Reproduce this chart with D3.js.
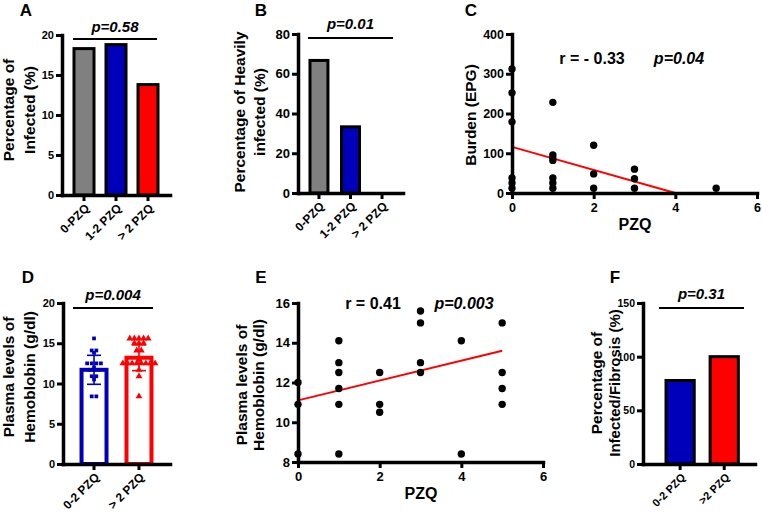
<!DOCTYPE html>
<html><head><meta charset="utf-8">
<script src="https://cdn.jsdelivr.net/npm/d3@7"></script>
<style>html,body{margin:0;padding:0;background:#fff;}</style>
</head><body>
<script>
// ---------------- DATA ----------------
const aCats = ["0-PZQ", "1-2 PZQ", "> 2 PZQ"];
const aVals = [18.3, 18.8, 13.8];
const aTicks = [0, 5, 10, 15, 20];
const aP = "p=0.58";

const bCats = ["0-PZQ", "1-2 PZQ", "> 2 PZQ"];
const bVals = [66.7, 33.3, 0];
const bTicks = [0, 20, 40, 60, 80];
const bP = "p=0.01";

const cX = [0, 0, 0, 0, 0, 0, 1, 1, 1, 1, 1, 1, 1, 2, 2, 2, 3, 3, 3, 5];
const cY = [312, 252, 179, 38, 25, 12, 228, 96, 88, 82, 38, 25, 12, 120, 48, 12, 60, 36, 12, 12];
const cFitX = [0, 4];
const cFitY = [116, 0];
const cXTicks = [0, 2, 4, 6];
const cYTicks = [0, 100, 200, 300, 400];
const cR = "r = - 0.33";
const cP = "p=0.04";

const dCats = ["0-2 PZQ", "> 2 PZQ"];
const dMeans = [11.7, 13.2];
const dSD = [1.8, 1.6];
const dLow = [15.6, 14.1, 14.1, 13.8, 12.5, 12.5, 12.5, 12.5, 12.0, 11.7, 11.7, 11.7, 10.9, 10.9, 10.5, 8.4, 8.4];
const dHigh = [15.6, 15.6, 15.6, 15.6, 15.6, 15.0, 15.0, 15.0, 14.1, 14.1, 13.0, 12.5, 12.5, 12.5, 12.5, 12.5, 12.5, 12.5, 12.5, 11.7, 10.9, 8.4];
const dTicks = [0, 5, 10, 15, 20];
const dP = "p=0.004";

const eX = [0, 0, 0, 1, 1, 1, 1, 1, 1, 2, 2, 2, 3, 3, 3, 3, 4, 4, 5, 5, 5, 5];
const eY = [12.0, 10.9, 8.4, 14.1, 13.0, 12.5, 11.7, 10.9, 8.4, 12.5, 10.9, 10.5, 15.6, 15.0, 13.0, 12.5, 14.1, 8.4, 15.0, 12.5, 11.7, 10.9];
const eFitX = [0, 5];
const eFitY = [11.1, 13.6];
const eXTicks = [0, 2, 4, 6];
const eYTicks = [8, 10, 12, 14, 16];
const eR = "r = 0.41";
const eP = "p=0.003";

const fCats = ["0-2 PZQ", ">2 PZQ"];
const fVals = [77.8, 100];
const fTicks = [0, 50, 100, 150];
const fP = "p=0.31";

// ---------------- HELPERS ----------------
const FONT = "'Liberation Sans', Arial, Helvetica, sans-serif";
const GREY = "#808080", BLUE = "#0000bb", RED = "#ff0000";
const svg = d3.select("body").append("svg").attr("width", 762).attr("height", 515);
svg.append("rect").attr("width", 762).attr("height", 515).attr("fill", "#fff");

function txt(x, y, s, size, opts = {}) {
  const t = svg.append("text").attr("x", x).attr("y", y).text(s)
    .attr("font-family", FONT).attr("font-weight", "bold").attr("font-size", size)
    .attr("fill", "#000").attr("text-anchor", opts.anchor || "middle");
  if (opts.italic) t.attr("font-style", "italic");
  if (opts.rotate) t.attr("transform", `rotate(-90,${x},${y})`);
  return t;
}
function styleAxis(g, fs) {
  g.selectAll(".domain").attr("stroke", "#000").attr("stroke-width", 3.5).attr("stroke-linecap", "square");
  g.selectAll(".tick line").attr("stroke", "#000").attr("stroke-width", 3);
  g.selectAll(".tick text").attr("font-family", FONT).attr("font-weight", "bold")
    .attr("font-size", fs).attr("fill", "#000");
}
function yAxis(scale, x, ticks, fs) {
  const g = svg.append("g").attr("transform", `translate(${x},0)`)
    .call(d3.axisLeft(scale).tickValues(ticks).tickFormat(d3.format("d")).tickSize(6).tickSizeOuter(0).tickPadding(2));
  styleAxis(g, fs);
  return g;
}
function xAxisLinear(scale, y, ticks, fs) {
  const g = svg.append("g").attr("transform", `translate(0,${y})`)
    .call(d3.axisBottom(scale).tickValues(ticks).tickFormat(d3.format("d")).tickSize(6).tickSizeOuter(0).tickPadding(4));
  styleAxis(g, fs);
  return g;
}
function xAxisBand(scale, y, fs) {
  const g = svg.append("g").attr("transform", `translate(0,${y})`)
    .call(d3.axisBottom(scale).tickSize(6).tickSizeOuter(0));
  styleAxis(g, fs);
  g.selectAll(".tick text").attr("x", 0).attr("y", 0).attr("dy", 0)
    .attr("text-anchor", "end").attr("transform", "translate(6,14) rotate(-45)");
  return g;
}
function sig(x1, x2, y, label, ty, size) {
  svg.append("line").attr("x1", x1).attr("x2", x2).attr("y1", y).attr("y2", y)
    .attr("stroke", "#000").attr("stroke-width", 2);
  txt((x1 + x2) / 2, ty, label, size, { italic: true });
}
function bars(cats, vals, x, y, colors) {
  svg.append("g").selectAll("rect").data(vals).join("rect")
    .attr("x", (d, i) => x(cats[i])).attr("width", x.bandwidth())
    .attr("y", d => y(d)).attr("height", d => y(0) - y(d))
    .attr("fill", (d, i) => colors[i]).attr("stroke", "#000").attr("stroke-width", 3);
}

// ---------------- PANEL A ----------------
{
  const y = d3.scaleLinear().domain([0, 20]).range([195, 35]);
  const x = d3.scaleBand().domain(aCats).range([62, 170]).padding(0.375);
  bars(aCats, aVals, x, y, [GREY, BLUE, RED]);
  yAxis(y, 62, aTicks, 11);
  xAxisBand(x, 195, 12);
  sig(73, 157, 39, aP, 32, 15);
  txt(26, 16, "A", 17);
  txt(14, 110, "Percentage of", 15.5, { rotate: true });
  txt(35, 110, "Infected (%)", 15.5, { rotate: true });
}
// ---------------- PANEL B ----------------
{
  const y = d3.scaleLinear().domain([0, 80]).range([193, 34]);
  const x = d3.scaleBand().domain(bCats).range([298, 403]).paddingInner(0.43).paddingOuter(0.38);
  bars(bCats, bVals, x, y, [GREY, BLUE, RED]);
  yAxis(y, 298, bTicks, 13);
  xAxisBand(x, 193, 12);
  sig(308, 393, 38, bP, 29, 15);
  txt(261, 16, "B", 17);
  txt(245, 112, "Percentage of Heavily", 15.5, { rotate: true });
  txt(265, 112, "infected (%)", 15.5, { rotate: true });
}
// ---------------- PANEL C ----------------
{
  const x = d3.scaleLinear().domain([0, 6]).range([512, 757]);
  const y = d3.scaleLinear().domain([0, 400]).range([193, 34]);
  svg.append("line").attr("x1", x(cFitX[0])).attr("y1", y(cFitY[0]))
    .attr("x2", x(cFitX[1])).attr("y2", y(cFitY[1])).attr("stroke", RED).attr("stroke-width", 2);
  yAxis(y, 512, cYTicks, 12.5);
  xAxisLinear(x, 193, cXTicks, 12.5);
  svg.append("g").selectAll("circle").data(cY).join("circle")
    .attr("cx", (d, i) => x(cX[i])).attr("cy", d => y(d)).attr("r", 3.7).attr("fill", "#000");
  txt(592, 64, cR, 16);
  txt(679, 64, cP, 16, { italic: true });
  txt(471, 16, "C", 17);
  txt(476, 115, "Burden (EPG)", 15.5, { rotate: true });
  txt(635, 230, "PZQ", 16);
}
// ---------------- PANEL D ----------------
{
  const y = d3.scaleLinear().domain([0, 20]).range([464, 303]);
  const x = d3.scaleBand().domain(dCats).range([63, 170]).paddingInner(0.4).paddingOuter(0.39);
  const cols = [BLUE, RED];
  const groups = [dLow, dHigh];
  svg.append("g").selectAll("rect").data(dMeans).join("rect")
    .attr("x", (d, i) => x(dCats[i]) + 1).attr("width", x.bandwidth() - 2)
    .attr("y", d => y(d)).attr("height", d => y(0) - y(d))
    .attr("fill", "#fff").attr("stroke", (d, i) => cols[i]).attr("stroke-width", 4);
  dMeans.forEach((m, i) => {
    const cx = x(dCats[i]) + x.bandwidth() / 2;
    const g = svg.append("g").attr("stroke", cols[i]).attr("stroke-width", 1.6);
    g.append("line").attr("x1", cx).attr("x2", cx).attr("y1", y(m - dSD[i])).attr("y2", y(m + dSD[i]));
    g.append("line").attr("x1", cx - 7).attr("x2", cx + 7).attr("y1", y(m + dSD[i])).attr("y2", y(m + dSD[i]));
    g.append("line").attr("x1", cx - 7).attr("x2", cx + 7).attr("y1", y(m - dSD[i])).attr("y2", y(m - dSD[i]));
  });
  groups.forEach((vals, i) => {
    const cx = x(dCats[i]) + x.bandwidth() / 2;
    const counts = d3.rollup(vals, v => v.length, d => d);
    const seen = new Map();
    const sym = d3.symbol().type(i === 0 ? d3.symbolSquare : d3.symbolTriangle).size(i === 0 ? 14 : 20);
    vals.forEach(v => {
      const k = counts.get(v), j = seen.get(v) || 0;
      seen.set(v, j + 1);
      const dx = (j - (k - 1) / 2) * 4.6;
      svg.append("path").attr("d", sym()).attr("fill", cols[i])
        .attr("transform", `translate(${cx + dx},${y(v)})`);
    });
  });
  yAxis(y, 63, dTicks, 11);
  xAxisBand(x, 464, 12);
  sig(73, 153, 308, dP, 300, 15);
  txt(28, 283, "D", 17);
  txt(14, 377, "Plasma levels of", 15.5, { rotate: true });
  txt(35, 377, "Hemoblobin (g/dl)", 15.5, { rotate: true });
}
// ---------------- PANEL E ----------------
{
  const x = d3.scaleLinear().domain([0, 6]).range([298, 543]);
  const y = d3.scaleLinear().domain([8, 16]).range([462, 303]);
  svg.append("line").attr("x1", x(eFitX[0])).attr("y1", y(eFitY[0]))
    .attr("x2", x(eFitX[1])).attr("y2", y(eFitY[1])).attr("stroke", RED).attr("stroke-width", 2);
  yAxis(y, 298, eYTicks, 13);
  xAxisLinear(x, 462, eXTicks, 13);
  svg.append("g").selectAll("circle").data(eY).join("circle")
    .attr("cx", (d, i) => x(eX[i])).attr("cy", d => y(d)).attr("r", 3.7).attr("fill", "#000");
  txt(373, 309, eR, 16);
  txt(464, 309, eP, 16, { italic: true });
  txt(261, 283, "E", 17);
  txt(247, 385, "Plasma levels of", 15.5, { rotate: true });
  txt(264, 385, "Hemoblobin (g/dl)", 15.5, { rotate: true });
  txt(421, 499, "PZQ", 16);
}
// ---------------- PANEL F ----------------
{
  const y = d3.scaleLinear().domain([0, 150]).range([464, 303]);
  const x = d3.scaleBand().domain(fCats).range([643, 755]).paddingInner(0.36).paddingOuter(0.45).align(0.58);
  bars(fCats, fVals, x, y, [BLUE, RED]);
  yAxis(y, 643, fTicks, 10.5);
  xAxisBand(x, 464, 11);
  sig(659, 744, 308, fP, 299, 15);
  txt(615, 283, "F", 17);
  txt(602, 383, "Percentage of", 15.5, { rotate: true });
  txt(620, 383, "Infected/Fibrosis (%)", 15, { rotate: true });
}
</script>
</body></html>
